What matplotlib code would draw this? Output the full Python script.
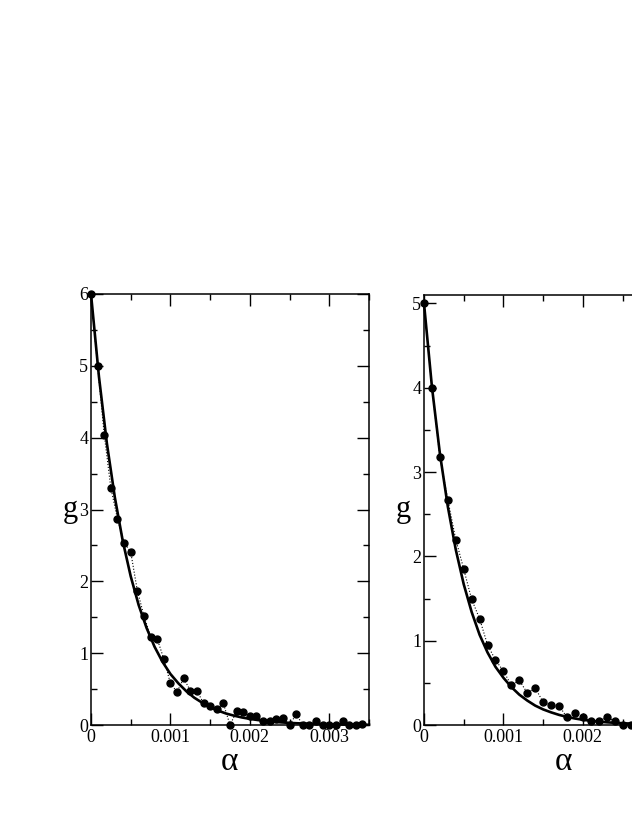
import numpy as np
import matplotlib
matplotlib.use("Agg")
import matplotlib.pyplot as plt
from matplotlib.ticker import MultipleLocator

plt.rcParams['font.family'] = ['Liberation Serif', 'DejaVu Serif']

# left panel: measured points, spacing 1/12000
alpha_left = np.arange(42) * (0.001 / 12)
g_left = [6.00, 5.00, 4.04, 3.30, 2.87, 2.54, 2.41, 1.87, 1.52, 1.23,
          1.20, 0.92, 0.58, 0.46, 0.65, 0.48, 0.48, 0.30, 0.27, 0.22,
          0.30, 0.00, 0.19, 0.18, 0.12, 0.12, 0.05, 0.05, 0.09, 0.10,
          0.00, 0.15, 0.00, 0.00, 0.05, 0.00, 0.00, 0.00, 0.05, 0.00,
          0.00, 0.02]

# left panel: solid curve read at steps of 0.0001
curve_alpha_left = np.arange(36) * 0.0001
curve_g_left = [6.00, 4.85, 3.92, 3.17, 2.56, 2.07, 1.67, 1.35, 1.09, 0.88,
                0.71, 0.58, 0.47, 0.38, 0.31, 0.25, 0.20, 0.16, 0.13, 0.105,
                0.085, 0.069, 0.056, 0.045, 0.036, 0.029, 0.024, 0.019, 0.016, 0.013,
                0.010, 0.008, 0.007, 0.005, 0.004, 0.003]

# right panel: measured points, spacing 0.0001
alpha_right = np.arange(27) * 0.0001
g_right = [5.00, 4.00, 3.18, 2.67, 2.20, 1.85, 1.49, 1.26, 0.95, 0.77,
           0.64, 0.47, 0.53, 0.38, 0.44, 0.27, 0.24, 0.23, 0.09, 0.14,
           0.09, 0.05, 0.05, 0.09, 0.05, 0.00, 0.00]

curve_alpha_right = np.arange(30) * 0.0001
curve_g_right = [5.00, 4.01, 3.22, 2.59, 2.08, 1.67, 1.34, 1.07, 0.86, 0.69,
                 0.56, 0.45, 0.36, 0.29, 0.23, 0.185, 0.15, 0.12, 0.096, 0.077,
                 0.062, 0.050, 0.040, 0.032, 0.026, 0.021, 0.017, 0.013, 0.011, 0.009]

xticks = [0, 0.001, 0.002, 0.003]
xtick_labels = ['0', '0.001', '0.002', '0.003']


def panel(ax, a, g, ca, cg, ymax, ytop):
    ax.plot(ca, cg, color='black', lw=1.9, zorder=2, clip_on=False)
    ax.plot(a, g, color='black', lw=0.8, ls=':', zorder=3)
    ax.plot(a, g, 'o', color='black', ms=5, zorder=4, clip_on=False)
    ax.set_xlim(0, 0.0035)
    ax.set_ylim(0, ytop)
    ax.set_xticks(xticks)
    ax.set_xticklabels(xtick_labels)
    ax.set_yticks(range(ymax + 1))
    ax.xaxis.set_minor_locator(MultipleLocator(0.0005))
    ax.yaxis.set_minor_locator(MultipleLocator(0.5))
    ax.tick_params(which='both', direction='in', top=True, right=True,
                   width=1.0, labelsize=13)
    ax.tick_params(which='major', length=8.5)
    ax.tick_params(which='minor', length=4.3)
    ax.tick_params(axis='x', pad=3)
    ax.tick_params(axis='y', pad=2)
    for s in ax.spines.values():
        s.set_linewidth(1.1)
    ax.set_xlabel('α', fontsize=24, labelpad=0)
    ax.set_ylabel('g', fontsize=22, rotation=0, va='center', labelpad=6)


fig = plt.figure(figsize=(6.32, 8.17), dpi=100)
ax1 = fig.add_axes([91 / 632, 92 / 817, 278 / 632, 431 / 817])
ax2 = fig.add_axes([424 / 632, 92 / 817, 278 / 632, 430 / 817])

panel(ax1, alpha_left, g_left, curve_alpha_left, curve_g_left, 6, 6)
panel(ax2, alpha_right, g_right, curve_alpha_right, curve_g_right, 5, 5.1)

fig.savefig('out.png', dpi=100)
